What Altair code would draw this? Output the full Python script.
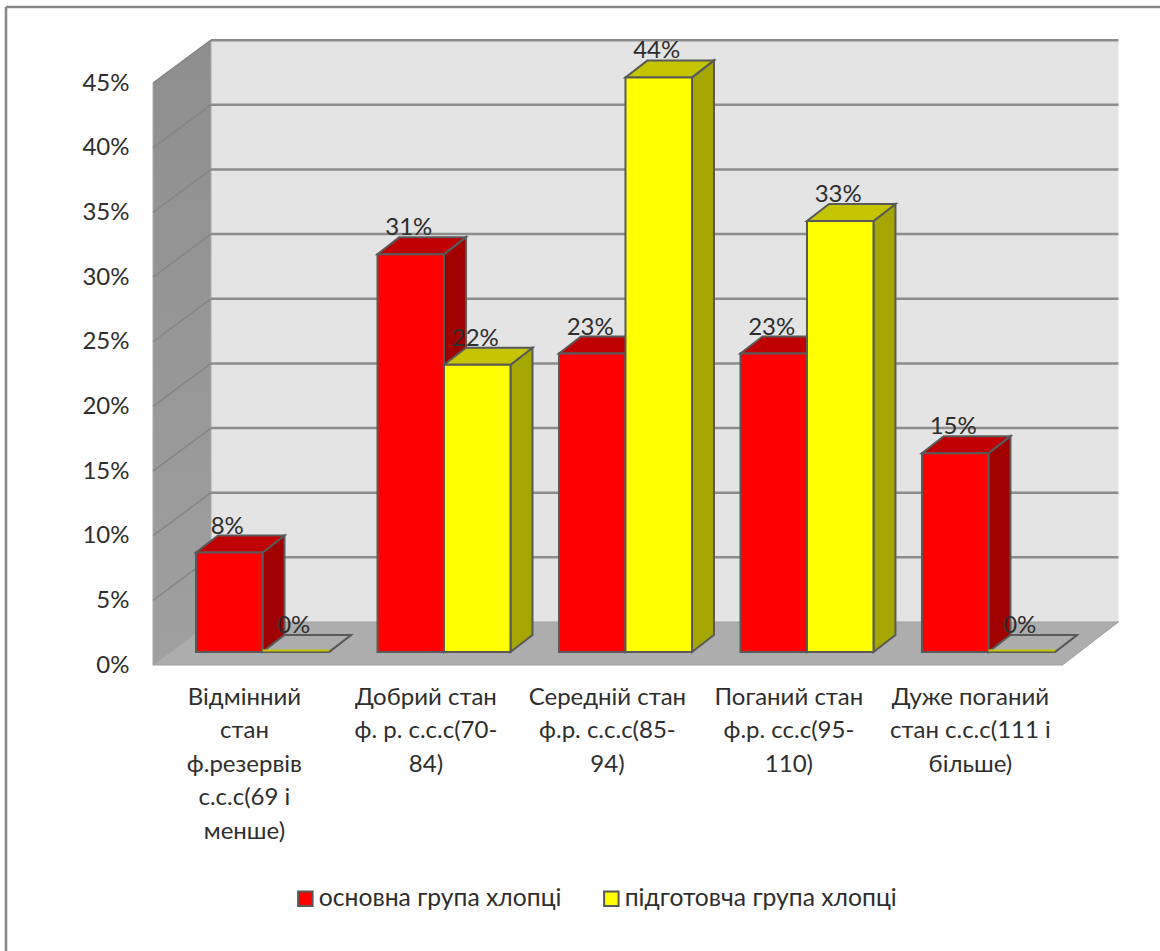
import altair as alt
import pandas as pd

# Chart values
categories = [
    ["Відмінний", "стан", "ф.резервів", "с.с.с(69 і", "менше)"],
    ["Добрий стан", "ф. р. с.с.с(70-", "84)"],
    ["Середній стан", "ф.р. с.с.с(85-", "94)"],
    ["Поганий стан", "ф.р. сс.с(95-", "110)"],
    ["Дуже поганий", "стан с.с.с(111 і", "більше)"],
]
series_names = ["основна група хлопці", "підготовча група хлопці"]
main_group = [7.69, 30.77, 23.08, 23.08, 15.38]
prep_group = [0.0, 22.22, 44.44, 33.33, 0.0]
y_ticks = [0, 5, 10, 15, 20, 25, 30, 35, 40, 45]

FONT = "Lato"
FONT_SIZE = 24
TEXT = "#2e2e2e"
OUTLINE = "#595959"
GRID = "#8c8c8c"

# Projection of the pseudo-3D box, in axis units (one category = 1 on x, percent on y)
X_MAX = 5.306
Y_MAX = 48.337
FRONT_X = -0.011
WALL_DX, WALL_DY = 0.3085, 3.325
BAR_DX, BAR_DY = 0.1212, 1.315
BASE_DX, BASE_DY = 0.0937, 1.005
GAP = 0.1322
BAR_W = 0.3664
N = len(categories)

x_scale = alt.Scale(domain=[0, X_MAX], nice=False, zero=False)
y_scale = alt.Scale(domain=[0, Y_MAX], nice=False, zero=False)

# Category captions hang below the floor; each one is a list of lines
label_map = {f"{i + 0.49:.2f}": c for i, c in enumerate(categories)}
label_expr = " : ".join(
    f"abs(datum.value - {k}) < 0.01 ? {c!r}" for k, c in label_map.items()
) + " : ''"

x_axis = alt.Axis(
    values=[float(k) for k in label_map], labelExpr=label_expr,
    domain=False, ticks=False, grid=False, labelPadding=20,
    labelFont=FONT, labelFontSize=FONT_SIZE, labelColor=TEXT, labelLineHeight=33.5,
    labelOverlap=False, labelFlush=False, labelBound=False, labelLimit=400,
    labelBaseline="top", title=None,
)
y_axis = alt.Axis(
    values=y_ticks, labelExpr="datum.value + '%'",
    domain=False, ticks=False, grid=False, labelPadding=26,
    labelFont=FONT, labelFontSize=FONT_SIZE, labelColor=TEXT,
    labelOverlap=False, labelFlush=False, labelBound=False, title=None,
)


def X(field):
    return alt.X(field, type="quantitative", scale=x_scale, axis=x_axis, stack=None)


def Y(field):
    return alt.Y(field, type="quantitative", scale=y_scale, axis=y_axis, stack=None)


# Walls and floor
back_wall = alt.Chart(pd.DataFrame({
    "x": [WALL_DX], "x2": [N + WALL_DX], "y": [WALL_DY], "y2": [Y_MAX],
})).mark_rect(fill="#e4e4e4").encode(
    x=X("x"), x2="x2", y=Y("y"), y2="y2"
)

wall_shade = alt.Gradient(
    gradient="linear", x1=0, y1=0, x2=0, y2=1,
    stops=[
        alt.GradientStop(offset=0, color="#8e8e8e"),
        alt.GradientStop(offset=1, color="#a0a0a0"),
    ],
)
left_wall = alt.Chart(pd.DataFrame({
    "x": [FRONT_X, WALL_DX], "y": [0, WALL_DY], "y2": [45, 45 + WALL_DY],
})).mark_area(fill=wall_shade, stroke="#a8a8a8", strokeWidth=1).encode(
    x=X("x"), y=Y("y"), y2="y2"
)

floor = alt.Chart(pd.DataFrame({
    "y": [0, WALL_DY], "x": [FRONT_X, WALL_DX], "x2": [N, N + WALL_DX],
})).mark_area(orient="horizontal", fill="#adadad", stroke="#a0a0a0", strokeWidth=1).encode(
    y=Y("y"), x=X("x"), x2="x2"
)

# Horizontal lines on the back wall and their continuation across the left wall
grid_back = alt.Chart(pd.DataFrame({
    "y": [t + WALL_DY for t in y_ticks if t > 0],
    "x": WALL_DX,
    "x2": N + WALL_DX,
})).mark_rule(color=GRID, strokeWidth=2.5).encode(
    x=X("x"), x2="x2", y=Y("y")
)

grid_side = alt.Chart(pd.DataFrame(
    [{"tick": t, "x": FRONT_X, "y": t} for t in y_ticks if t > 0]
    + [{"tick": t, "x": WALL_DX, "y": t + WALL_DY} for t in y_ticks if t > 0]
)).mark_line(color="#858585", strokeWidth=1.5).encode(
    x=X("x"), y=Y("y"), detail="tick:N"
)


def bar_layers(values, series_index, top_fill, side_fill):
    offset = BASE_DX + GAP + series_index * BAR_W
    name = series_names[series_index]
    bars = pd.DataFrame({
        "bar": range(N),
        "series": name,
        "value": values,
        "xl": [i + offset for i in range(N)],
        "xr": [i + offset + BAR_W for i in range(N)],
        "yb": BASE_DY,
        "yt": [v + BASE_DY for v in values],
    })
    side_rows, top_rows = [], []
    for r in bars.itertuples():
        side_rows += [
            {"bar": r.bar, "x": r.xr, "y": r.yb, "y2": r.yt},
            {"bar": r.bar, "x": r.xr + BAR_DX, "y": r.yb + BAR_DY, "y2": r.yt + BAR_DY},
        ]
        top_rows += [
            {"bar": r.bar, "value": r.value, "y": r.yt, "x": r.xl, "x2": r.xr},
            {"bar": r.bar, "value": r.value, "y": r.yt + BAR_DY, "x": r.xl + BAR_DX, "x2": r.xr + BAR_DX},
        ]
    side = alt.Chart(pd.DataFrame(side_rows)).mark_area(
        fill=side_fill, stroke=OUTLINE, strokeWidth=2
    ).encode(x=X("x"), y=Y("y"), y2="y2", detail="bar:N")
    top = alt.Chart(pd.DataFrame(top_rows)).mark_area(
        orient="horizontal", stroke=OUTLINE, strokeWidth=2
    ).encode(
        y=Y("y"), x=X("x"), x2="x2", detail="bar:N",
        # An empty bar leaves only its outline on the floor
        fill=alt.condition("datum.value == 0", alt.value("#adadad"), alt.value(top_fill)),
    )
    front = alt.Chart(bars).mark_rect(stroke=OUTLINE, strokeWidth=2).encode(
        x=X("xl"), x2="xr", y=Y("yb"), y2="yt",
        color=alt.Color(
            "series:N",
            scale=alt.Scale(domain=series_names, range=["#ff0000", "#ffff00"]),
            title=None,
            legend=alt.Legend(
                orient="none", legendX=138, legendY=846, direction="horizontal",
                columns=2, symbolType="square", symbolSize=210,
                symbolStrokeColor=OUTLINE, symbolStrokeWidth=2, symbolOpacity=1,
                labelFont=FONT, labelFontSize=24.7, labelColor=TEXT, labelLimit=400,
                columnPadding=37, labelOffset=1,
            ),
        ),
    )
    return [side, top, front], bars


red_layers, red_bars = bar_layers(main_group, 0, "#c00000", "#a00000")
yellow_layers, yellow_bars = bar_layers(prep_group, 1, "#c4c400", "#a6a600")

# Yellow seam along the front edge of the empty bars
empty_edge = alt.Chart(yellow_bars[yellow_bars["value"] == 0]).transform_calculate(
    seam="datum.yt + 0.12"
).mark_rule(color="#c4c400", strokeWidth=2).encode(
    x=X("xl"), x2="xr", y=Y("seam")
)

all_bars = pd.concat([red_bars, yellow_bars], ignore_index=True)
value_labels = alt.Chart(all_bars).transform_calculate(
    xc=f"datum.xl + {BAR_W / 2}",
    caption="format(datum.value, '.0f') + '%'",
).mark_text(
    font=FONT, fontSize=FONT_SIZE, color=TEXT, dx=-2, dy=-26, baseline="middle", align="center"
).encode(
    x=X("xc"), y=Y("yt"), text="caption:N"
)

# Frame of the chart object along its top and left edges
frame_top = alt.Chart(pd.DataFrame({"a": [0]})).mark_rule(color="#868686", strokeWidth=2.5).encode(
    x=alt.value(-149), x2=alt.value(1005), y=alt.value(-33)
)
frame_left = alt.Chart(pd.DataFrame({"a": [0]})).mark_rule(color="#868686", strokeWidth=2.5).encode(
    x=alt.value(-149), y=alt.value(-33), y2=alt.value(911)
)

chart = alt.layer(
    back_wall, left_wall, floor, grid_back, grid_side,
    *red_layers, *yellow_layers, empty_edge, value_labels,
    frame_top, frame_left,
).properties(
    width=963,
    height=625,
    background="#ffffff",
    autosize=alt.AutoSizeParams(type="none"),
    padding={"left": 155, "top": 40, "right": 42, "bottom": 286},
).configure_view(stroke=None)

chart.save("out.html", embed_options={"renderer": "svg", "actions": False})
